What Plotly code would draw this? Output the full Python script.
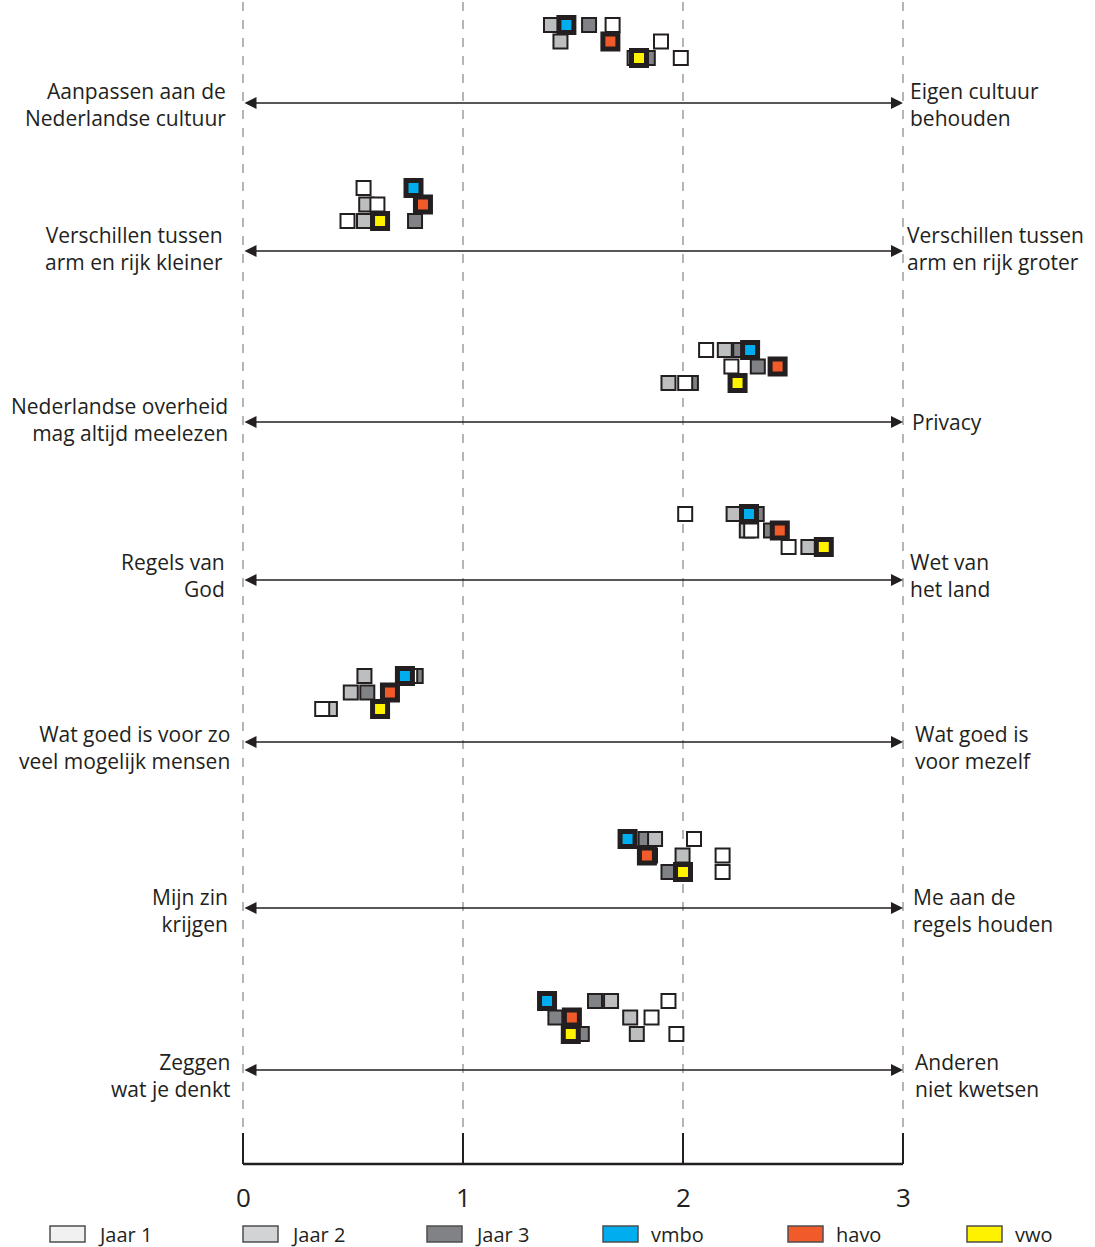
import plotly.graph_objects as go

# ---------------- data ----------------
left_labels = [
    "Aanpassen aan de<br>Nederlandse cultuur",
    "Verschillen tussen<br>arm en rijk kleiner",
    "Nederlandse overheid<br>mag altijd meelezen",
    "Regels van<br>God",
    "Wat goed is voor zo<br>veel mogelijk mensen",
    "Mijn zin<br>krijgen",
    "Zeggen<br>wat je denkt",
]
right_labels = [
    "Eigen cultuur<br>behouden",
    "Verschillen tussen<br>arm en rijk groter",
    "Privacy",
    "Wet van<br>het land",
    "Wat goed is<br>voor mezelf",
    "Me aan de<br>regels houden",
    "Anderen<br>niet kwetsen",
]

vmbo_all = [1.47, 0.775, 2.305, 2.30, 0.736, 1.748, 1.382]
havo_all = [1.67, 0.818, 2.43, 2.44, 0.668, 1.836, 1.495]
vwo_all = [1.80, 0.623, 2.248, 2.64, 0.623, 2.00, 1.49]

vmbo_j1 = [1.68, 0.548, 2.105, 2.01, 0.76, 2.05, 1.934]
vmbo_j2 = [1.40, 0.78, 2.19, 2.23, 0.552, 1.873, 1.673]
vmbo_j3 = [1.573, 0.77, 2.26, 2.335, 0.785, 1.83, 1.60]

havo_j1 = [1.90, 0.611, 2.22, 2.31, 0.66, 2.18, 1.857]
havo_j2 = [1.443, 0.56, 2.43, 2.29, 0.49, 1.998, 1.76]
havo_j3 = [1.67, 0.81, 2.34, 2.40, 0.565, 1.85, 1.42]

vwo_j1 = [1.99, 0.475, 2.01, 2.48, 0.36, 2.18, 1.97]
vwo_j2 = [1.78, 0.55, 1.934, 2.57, 0.395, 2.00, 1.79]
vwo_j3 = [1.84, 0.782, 2.036, 2.62, 0.62, 1.934, 1.54]

tick_labels = ["0", "1", "2", "3"]
legend_labels = ["Jaar 1", "Jaar 2", "Jaar 3", "vmbo", "havo", "vwo"]

# ---------------- layout helpers (pixel-based vertical layout) ----------------
W, H = 1095, 1247
X0PX, UNIT = 243.0, 220.0


def px2x(px):
    return (px - X0PX) / UNIT


arrow_y = [103, 251, 422, 580, 742, 908, 1070]
label_dy = [1, -2.5, -2.5, -4.5, 5, 2.5, 5]
right_dy = [1, -2.5, 0, -4.5, 5, 2.5, 5]
left_px = [228, 225, 230, 227, 232, 230, 232]
right_px = [908, 905, 910, 908, 913, 911, 913]
top_row_y = [25, 188, 350, 514, 676, 839, 1001]
ROW_STEP = 16.5

DARK = "#231f20"
C_J1, C_J2, C_J3 = "#ffffff", "#bcbec0", "#808285"
C_VMBO, C_HAVO, C_VWO = "#00aeef", "#f15a29", "#fff200"

fig = go.Figure()

# gridlines
shapes = []
for k in range(4):
    shapes.append(dict(type="line", xref="x", yref="y", x0=k, x1=k, y0=2, y1=1140,
                       line=dict(color="#b5b5b5", width=2, dash="dash"), layer="below"))

# bottom axis
shapes.append(dict(type="line", xref="x", yref="y", x0=0, x1=3, y0=1164, y1=1164,
                   line=dict(color=DARK, width=2.5)))
for k in range(4):
    shapes.append(dict(type="line", xref="x", yref="y", x0=k, x1=k, y0=1133, y1=1164,
                       line=dict(color=DARK, width=2)))

annotations = []
for k, t in enumerate(tick_labels):
    annotations.append(dict(x=k, y=1197, xref="x", yref="y", text=t, showarrow=False,
                            font=dict(size=26, color=DARK), xanchor="center", yanchor="middle"))

# arrows and labels
for i, yv in enumerate(arrow_y):
    annotations.append(dict(x=3, y=yv, ax=0, ay=yv, xref="x", yref="y", axref="x", ayref="y",
                            text="", showarrow=True, arrowhead=2, arrowside="end+start",
                            arrowsize=1.5, arrowwidth=1.6, arrowcolor=DARK))
    annotations.append(dict(x=px2x(left_px[i]), y=yv + label_dy[i], xref="x", yref="y",
                            text=left_labels[i], showarrow=False, xanchor="right",
                            yanchor="middle", align="right", font=dict(size=21, color=DARK)))
    annotations.append(dict(x=px2x(right_px[i]), y=yv + right_dy[i], xref="x", yref="y",
                            text=right_labels[i], showarrow=False, xanchor="left",
                            yanchor="middle", align="left", font=dict(size=21, color=DARK)))

levels = [
    (vmbo_all, vmbo_j1, vmbo_j2, vmbo_j3, C_VMBO, "vmbo"),
    (havo_all, havo_j1, havo_j2, havo_j3, C_HAVO, "havo"),
    (vwo_all, vwo_j1, vwo_j2, vwo_j3, C_VWO, "vwo"),
]


def ys(li):
    return [top_row_y[i] + li * ROW_STEP for i in range(len(top_row_y))]


# year squares: Jaar 3 first, then Jaar 2, then Jaar 1 on top
for idx, color in [(3, C_J3), (2, C_J2), (1, C_J1)]:
    for li, lv in enumerate(levels):
        fig.add_trace(go.Scatter(
            x=lv[idx], y=ys(li), mode="markers", cliponaxis=False, showlegend=False,
            hoverinfo="x",
            marker=dict(symbol="square", size=14, color=color, line=dict(color=DARK, width=2)),
        ))

# overall level squares on top
for li, lv in enumerate(levels):
    fig.add_trace(go.Scatter(
        x=lv[0], y=ys(li), mode="markers", cliponaxis=False, showlegend=False,
        hoverinfo="x", name=lv[5],
        marker=dict(symbol="square", size=15, color=lv[4], line=dict(color=DARK, width=5)),
    ))

# legend (drawn manually)
leg_box_x = [50, 243, 427, 603, 788, 967]
leg_colors = ["#f1f1f2", "#d1d3d4", "#808285", "#00aeef", "#f15a29", "#fff200"]
for bx, col, lab in zip(leg_box_x, leg_colors, legend_labels):
    shapes.append(dict(type="rect", xref="x", yref="y", x0=px2x(bx), x1=px2x(bx + 35),
                       y0=1226, y1=1242, fillcolor=col, line=dict(color="#4d4d4f", width=1.5)))
    annotations.append(dict(x=px2x(bx + 46), y=1234, xref="x", yref="y", text=lab,
                            showarrow=False, xanchor="left", yanchor="middle",
                            font=dict(size=20, color=DARK)))

fig.update_layout(
    width=W, height=H,
    margin=dict(l=0, r=0, t=0, b=0),
    paper_bgcolor="white", plot_bgcolor="white",
    font=dict(family="Open Sans, Noto Sans, sans-serif", color=DARK),
    xaxis=dict(range=[px2x(0), px2x(W)], visible=False, fixedrange=True),
    yaxis=dict(range=[H, 0], visible=False, fixedrange=True),
    shapes=shapes, annotations=annotations,
)

fig.write_html(
    "out.html",
    config={"displayModeBar": False},
    post_script="document.body.style.margin='0';document.body.style.overflow='hidden';",
)
